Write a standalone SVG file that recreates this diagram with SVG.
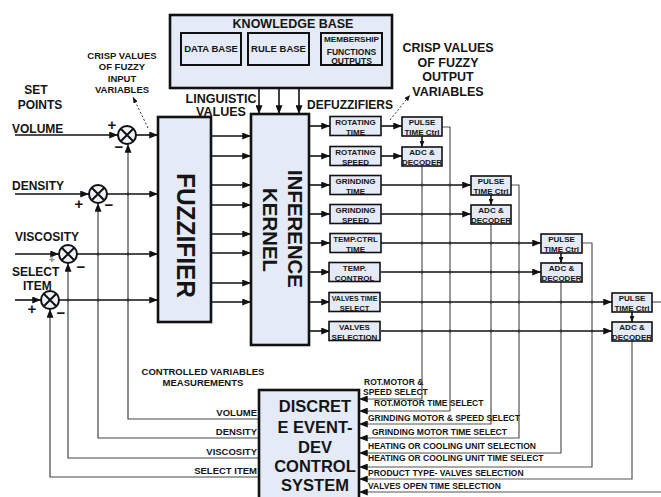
<svg xmlns="http://www.w3.org/2000/svg" width="661" height="497" viewBox="0 0 661 497">
<style>
.t{font-family:"Liberation Sans",Arial,sans-serif;font-weight:bold;fill:#151515}
.m{text-anchor:middle}
.box{fill:#e4eaf6;stroke:#111;stroke-width:2}
.big{fill:#e4eaf6;stroke:#111;stroke-width:2.6}
.sm{fill:#e4eaf6;stroke:#111;stroke-width:1.6}
.ln{fill:none;stroke:#111;stroke-width:1.6}
.bus{fill:none;stroke:#555;stroke-width:1.2}
.fb{fill:none;stroke:#444;stroke-width:1.2}
.dot{fill:none;stroke:#333;stroke-width:1;stroke-dasharray:2,2}
.jn{fill:#333}
.sum{fill:#eef2fa;stroke:#111;stroke-width:2}
.x{stroke:#111;stroke-width:2}
</style>
<defs>
<marker id="ah" viewBox="0 0 10 8" refX="10" refY="4" markerWidth="9" markerHeight="7" markerUnits="userSpaceOnUse" orient="auto"><path d="M0,0 L10,4 L0,8 z" fill="#111"/></marker>
<marker id="as" viewBox="0 0 10 8" refX="10" refY="4" markerWidth="6" markerHeight="5" markerUnits="userSpaceOnUse" orient="auto"><path d="M0,0 L10,4 L0,8 z" fill="#111"/></marker>
</defs>
<rect width="661" height="497" fill="#fff"/>

<!-- connectors -->
<g id="connectors">
<path class="ln" d="M209,65 V73 H259 V114" marker-end="url(#ah)"/>
<path class="ln" d="M279,65 V114" marker-end="url(#ah)"/>
<path class="ln" d="M352,65 V73 H299 V114" marker-end="url(#ah)"/>
<path class="ln" d="M15,135 H118" marker-end="url(#ah)"/>
<path class="ln" d="M15,194 H89" marker-end="url(#ah)"/>
<path class="ln" d="M15,254 H59" marker-end="url(#ah)"/>
<path class="ln" d="M15,300 H41" marker-end="url(#ah)"/>
<path class="ln" d="M136,135 H158" marker-end="url(#ah)"/>
<path class="ln" d="M107,194 H158" marker-end="url(#ah)"/>
<path class="ln" d="M77,254 H158" marker-end="url(#ah)"/>
<path class="ln" d="M59,300 H158" marker-end="url(#ah)"/>
<path class="fb" d="M259,419 H128 V144" marker-end="url(#ah)"/>
<path class="fb" d="M259,438 H98 V203" marker-end="url(#ah)"/>
<path class="fb" d="M259,458 H68 V263" marker-end="url(#ah)"/>
<path class="fb" d="M259,477 H50 V309" marker-end="url(#ah)"/>
<path class="ln" d="M211,136 H251" marker-end="url(#ah)"/>
<path class="ln" d="M211,156 H251" marker-end="url(#ah)"/>
<path class="ln" d="M211,185 H251" marker-end="url(#ah)"/>
<path class="ln" d="M211,205 H251" marker-end="url(#ah)"/>
<path class="ln" d="M211,234 H251" marker-end="url(#ah)"/>
<path class="ln" d="M211,253 H251" marker-end="url(#ah)"/>
<path class="ln" d="M211,283 H251" marker-end="url(#ah)"/>
<path class="ln" d="M211,302 H251" marker-end="url(#ah)"/>
<path class="ln" d="M309,126 H330" marker-end="url(#ah)"/>
<path class="ln" d="M309,156 H330" marker-end="url(#ah)"/>
<path class="ln" d="M309,185 H330" marker-end="url(#ah)"/>
<path class="ln" d="M309,214 H330" marker-end="url(#ah)"/>
<path class="ln" d="M309,243 H330" marker-end="url(#ah)"/>
<path class="ln" d="M309,272 H330" marker-end="url(#ah)"/>
<path class="ln" d="M309,302 H330" marker-end="url(#ah)"/>
<path class="ln" d="M309,331 H330" marker-end="url(#ah)"/>
<path class="ln" d="M381,126 H402" marker-end="url(#ah)"/>
<path class="ln" d="M381,156 H402" marker-end="url(#ah)"/>
<path class="ln" d="M381,185 H471" marker-end="url(#ah)"/>
<path class="ln" d="M381,214 H471" marker-end="url(#ah)"/>
<path class="ln" d="M381,243 H541" marker-end="url(#ah)"/>
<path class="ln" d="M381,272 H541" marker-end="url(#ah)"/>
<path class="ln" d="M381,302 H612" marker-end="url(#ah)"/>
<path class="ln" d="M381,331 H612" marker-end="url(#ah)"/>
<path class="ln" d="M422,136 V147" marker-end="url(#as)"/>
<path class="ln" d="M491,195 V205" marker-end="url(#as)"/>
<path class="ln" d="M561,253 V263" marker-end="url(#as)"/>
<path class="ln" d="M632,312 V322" marker-end="url(#as)"/>
<path class="bus" d="M422,166 V399 H359" marker-end="url(#ah)"/>
<path class="bus" d="M442,127 H450 V411 H359" marker-end="url(#ah)"/>
<path class="bus" d="M491,224 V424 H359" marker-end="url(#ah)"/>
<path class="bus" d="M511,185 H519 V438 H359" marker-end="url(#ah)"/>
<path class="bus" d="M561,282 V453 H359" marker-end="url(#ah)"/>
<path class="bus" d="M582,243 H592 V467 H359" marker-end="url(#ah)"/>
<path class="bus" d="M632,341 V479 H359" marker-end="url(#ah)"/>
<path class="bus" d="M652,302 H661"/>
<path class="bus" d="M661,492 H359" marker-end="url(#ah)"/>
<path class="dot" d="M148,128 L133,97" marker-end="url(#as)"/>
<path class="dot" d="M390,120 L410,95" marker-end="url(#as)"/>
<g class="jn">
<circle cx="128" cy="194" r="1.5"/><circle cx="128" cy="254" r="1.5"/><circle cx="128" cy="300" r="1.5"/>
<circle cx="98" cy="254" r="1.5"/><circle cx="98" cy="300" r="1.5"/><circle cx="68" cy="300" r="1.5"/>
<circle cx="422" cy="185" r="1.5"/><circle cx="450" cy="185" r="1.5"/>
<circle cx="422" cy="214" r="1.5"/><circle cx="450" cy="214" r="1.5"/>
<circle cx="422" cy="243" r="1.5"/><circle cx="450" cy="243" r="1.5"/><circle cx="491" cy="243" r="1.5"/><circle cx="519" cy="243" r="1.5"/>
<circle cx="422" cy="272" r="1.5"/><circle cx="450" cy="272" r="1.5"/><circle cx="491" cy="272" r="1.5"/><circle cx="519" cy="272" r="1.5"/>
<circle cx="422" cy="302" r="1.5"/><circle cx="450" cy="302" r="1.5"/><circle cx="491" cy="302" r="1.5"/><circle cx="519" cy="302" r="1.5"/><circle cx="561" cy="302" r="1.5"/><circle cx="592" cy="302" r="1.5"/>
<circle cx="422" cy="331" r="1.5"/><circle cx="450" cy="331" r="1.5"/><circle cx="491" cy="331" r="1.5"/><circle cx="519" cy="331" r="1.5"/><circle cx="561" cy="331" r="1.5"/><circle cx="592" cy="331" r="1.5"/>
</g>
</g>

<g id="knowledge-base">
<rect class="big" x="170" y="15" width="222" height="73"/>
<text class="t m" x="293" y="28" font-size="12.5">KNOWLEDGE BASE</text>
</g>
<g id="data-base">
<rect class="box" x="181" y="33" width="60" height="32"/>
<text class="t m" x="211" y="52" font-size="9.5">DATA BASE</text>
</g>
<g id="rule-base">
<rect class="box" x="248" y="33" width="61" height="32"/>
<text class="t m" x="278.5" y="52" font-size="9.5">RULE BASE</text>
</g>
<g id="membership">
<rect class="box" x="321" y="33" width="61" height="32"/>
<text class="t m" x="351.5" y="42" font-size="7" textLength="55" lengthAdjust="spacingAndGlyphs">MEMBERSHIP</text>
<text class="t m" x="351.5" y="55" font-size="8.5">FUNCTIONS</text>
<text class="t m" x="351.5" y="64" font-size="8.5">OUTPUTS</text>
</g>

<g id="labels">
<text class="t m" x="122" y="58.5" font-size="9.5">CRISP VALUES</text>
<text class="t m" x="122" y="70" font-size="9.5">OF FUZZY</text>
<text class="t m" x="122" y="81.5" font-size="9.5">INPUT</text>
<text class="t m" x="122" y="93" font-size="9.5">VARIABLES</text>
<text class="t m" x="36" y="94" font-size="12">SET</text>
<text class="t m" x="40" y="109" font-size="12">POINTS</text>
<text class="t" x="12" y="133" font-size="12">VOLUME</text>
<text class="t" x="12" y="190" font-size="12">DENSITY</text>
<text class="t" x="15" y="241" font-size="12">VISCOSITY</text>
<text class="t" x="12" y="276" font-size="12">SELECT</text>
<text class="t" x="23" y="290" font-size="12">ITEM</text>
<text class="t m" x="221" y="103" font-size="12.5">LINGUISTIC</text>
<text class="t m" x="221" y="116" font-size="12.5">VALUES</text>
<text class="t" x="307" y="109" font-size="12">DEFUZZIFIERS</text>
<text class="t m" x="448" y="52" font-size="12.5">CRISP VALUES</text>
<text class="t m" x="448" y="67" font-size="12.5">OF FUZZY</text>
<text class="t m" x="448" y="81" font-size="12.5">OUTPUT</text>
<text class="t m" x="448" y="96" font-size="12.5">VARIABLES</text>
<text class="t m" x="203" y="375" font-size="9.5">CONTROLLED VARIABLES</text>
<text class="t m" x="203" y="386" font-size="9.5">MEASUREMENTS</text>
<text class="t" x="257" y="416" font-size="9.5" text-anchor="end">VOLUME</text>
<text class="t" x="257" y="435" font-size="9.5" text-anchor="end">DENSITY</text>
<text class="t" x="257" y="455" font-size="9.5" text-anchor="end">VISCOSITY</text>
<text class="t" x="257" y="474" font-size="9.5" text-anchor="end">SELECT ITEM</text>
<text class="t" x="364" y="385" font-size="8.5">ROT.MOTOR &amp;</text>
<text class="t" x="363" y="395" font-size="8.5">SPEED SELECT</text>
<text class="t" x="374" y="406" font-size="8.5">ROT.MOTOR TIME SELECT</text>
<text class="t" x="368" y="421" font-size="8.5">GRINDING MOTOR &amp; SPEED SELECT</text>
<text class="t" x="372" y="435" font-size="8.5">GRINDING MOTOR TIME SELECT</text>
<text class="t" x="368" y="449" font-size="8.5">HEATING OR COOLING UNIT SELECTION</text>
<text class="t" x="368" y="461" font-size="8.5">HEATING OR COOLING UNIT TIME SELECT</text>
<text class="t" x="368" y="476" font-size="8.5">PRODUCT TYPE- VALVES SELECTION</text>
<text class="t" x="368" y="489" font-size="8.5">VALVES OPEN TIME SELECTION</text>
</g>

<g id="sum-volume">
<circle class="sum" cx="127" cy="135" r="9"/>
<path class="x" d="M121,129 L133,141 M133,129 L121,141"/>
<text class="t m" x="112" y="130" font-size="15">+</text>
<text class="t m" x="119" y="152" font-size="15">−</text>
</g>
<g id="sum-density">
<circle class="sum" cx="98" cy="194" r="9"/>
<path class="x" d="M92,188 L104,200 M104,188 L92,200"/>
<text class="t m" x="79" y="209" font-size="15">+</text>
<text class="t m" x="109" y="210" font-size="15">−</text>
</g>
<g id="sum-viscosity">
<circle class="sum" cx="68" cy="254" r="9"/>
<path class="x" d="M62,248 L74,260 M74,248 L62,260"/>
<text class="t m" x="52" y="263" font-size="10" style="fill:#888">+</text>
<text class="t m" x="81" y="272" font-size="15">−</text>
</g>
<g id="sum-select">
<circle class="sum" cx="50" cy="300" r="9"/>
<path class="x" d="M44,294 L56,306 M56,294 L44,306"/>
<text class="t m" x="32" y="314" font-size="15">+</text>
<text class="t m" x="61" y="318" font-size="15">−</text>
</g>

<g id="fuzzifier">
<rect class="big" x="158" y="117" width="53" height="205"/>
<text class="t m" transform="translate(176.5,235.5) rotate(90)" font-size="26" textLength="125" lengthAdjust="spacingAndGlyphs">FUZZIFIER</text>
</g>
<g id="inference-kernel">
<rect class="big" x="251" y="114" width="58" height="231"/>
<text class="t m" transform="translate(288,229) rotate(90)" font-size="21" textLength="118" lengthAdjust="spacingAndGlyphs">INFERENCE</text>
<text class="t m" transform="translate(262.5,230) rotate(90)" font-size="21" textLength="84" lengthAdjust="spacingAndGlyphs">KERNEL</text>
</g>

<g id="rotating-time"><rect class="sm" x="330" y="116.5" width="51" height="19"/>
<text class="t m" x="355.5" y="125" font-size="8">ROTATING</text><text class="t m" x="355.5" y="134.5" font-size="8">TIME</text></g>
<g id="rotating-speed"><rect class="sm" x="330" y="146.5" width="51" height="19"/>
<text class="t m" x="355.5" y="155" font-size="8">ROTATING</text><text class="t m" x="355.5" y="164.5" font-size="8">SPEED</text></g>
<g id="grinding-time"><rect class="sm" x="330" y="175.5" width="51" height="19"/>
<text class="t m" x="355.5" y="184" font-size="8">GRINDING</text><text class="t m" x="355.5" y="193.5" font-size="8">TIME</text></g>
<g id="grinding-speed"><rect class="sm" x="330" y="204.5" width="51" height="19"/>
<text class="t m" x="355.5" y="213" font-size="8">GRINDING</text><text class="t m" x="355.5" y="222.5" font-size="8">SPEED</text></g>
<g id="temp-ctrl-time"><rect class="sm" x="330" y="233.5" width="51" height="19"/>
<text class="t m" x="355.5" y="242" font-size="8">TEMP.CTRL</text><text class="t m" x="355.5" y="251.5" font-size="8">TIME</text></g>
<g id="temp-control"><rect class="sm" x="329" y="262.5" width="51" height="19"/>
<text class="t m" x="354.5" y="271" font-size="8">TEMP.</text><text class="t m" x="354.5" y="280.5" font-size="8">CONTROL</text></g>
<g id="valves-time-select"><rect class="sm" x="329" y="292.5" width="51" height="19"/>
<text class="t m" x="354.5" y="301" font-size="7">VALVES TIME</text><text class="t m" x="354.5" y="310.5" font-size="7.5">SELECT</text></g>
<g id="valves-selection"><rect class="sm" x="329" y="321.5" width="51" height="19"/>
<text class="t m" x="354.5" y="330" font-size="8">VALVES</text><text class="t m" x="354.5" y="339.5" font-size="8">SELECTION</text></g>

<g id="pulse-1"><rect class="sm" x="402" y="117" width="40" height="19"/>
<text class="t m" x="422" y="125" font-size="8">PULSE</text><text class="t m" x="422" y="134.5" font-size="8">TIME Ctrl</text></g>
<g id="adc-1"><rect class="sm" x="402" y="147" width="40" height="19"/>
<text class="t m" x="422" y="155" font-size="8">ADC &amp;</text><text class="t m" x="422" y="164.5" font-size="8">DECODER</text></g>
<g id="pulse-2"><rect class="sm" x="471" y="176" width="40" height="19"/>
<text class="t m" x="491" y="184" font-size="8">PULSE</text><text class="t m" x="491" y="193.5" font-size="8">TIME Ctrl</text></g>
<g id="adc-2"><rect class="sm" x="471" y="205" width="40" height="19"/>
<text class="t m" x="491" y="213" font-size="8">ADC &amp;</text><text class="t m" x="491" y="222.5" font-size="8">DECODER</text></g>
<g id="pulse-3"><rect class="sm" x="541" y="234" width="41" height="19"/>
<text class="t m" x="561.5" y="242" font-size="8">PULSE</text><text class="t m" x="561.5" y="251.5" font-size="8">TIME Ctrl</text></g>
<g id="adc-3"><rect class="sm" x="541" y="263" width="41" height="19"/>
<text class="t m" x="561.5" y="271" font-size="8">ADC &amp;</text><text class="t m" x="561.5" y="280.5" font-size="8">DECODER</text></g>
<g id="pulse-4"><rect class="sm" x="612" y="293" width="40" height="19"/>
<text class="t m" x="632" y="301" font-size="8">PULSE</text><text class="t m" x="632" y="310.5" font-size="8">TIME Ctrl</text></g>
<g id="adc-4"><rect class="sm" x="612" y="322" width="40" height="19"/>
<text class="t m" x="632" y="330" font-size="8">ADC &amp;</text><text class="t m" x="632" y="339.5" font-size="8">DECODER</text></g>

<g id="control-system">
<rect class="big" x="259" y="390" width="100" height="120"/>
<text class="t m" x="315" y="412" font-size="16.5">DISCRET</text>
<text class="t m" x="315" y="433" font-size="16.5">E EVENT-</text>
<text class="t m" x="315" y="453" font-size="16.5">DEV</text>
<text class="t m" x="315" y="472" font-size="16.5">CONTROL</text>
<text class="t m" x="315" y="491" font-size="16.5">SYSTEM</text>
</g>
</svg>
